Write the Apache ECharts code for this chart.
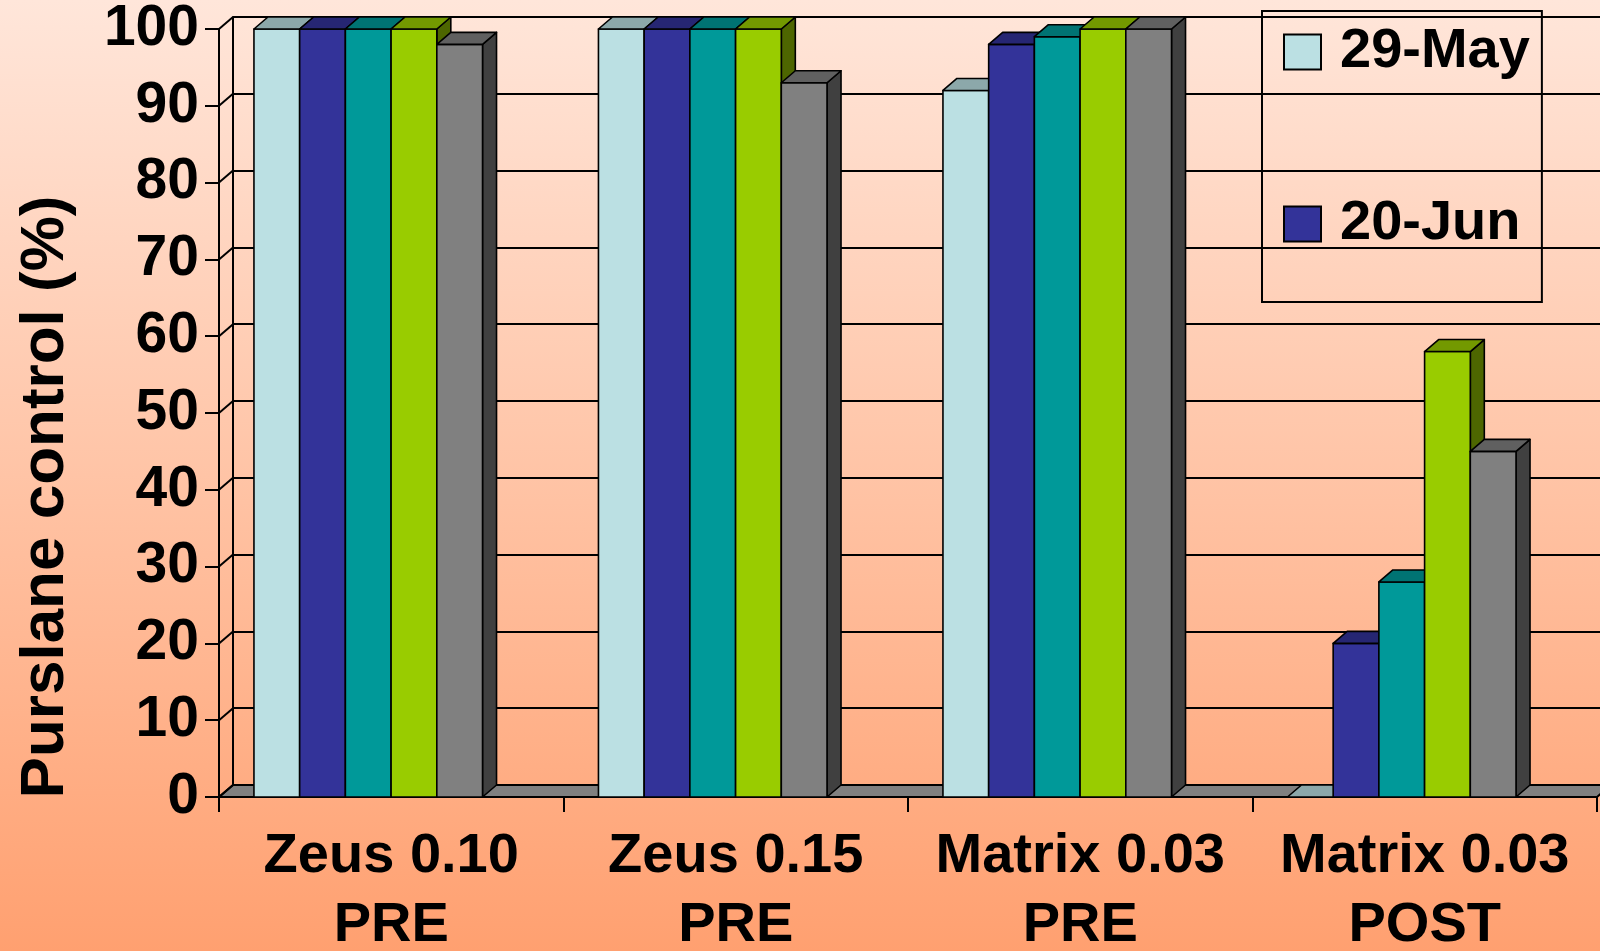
<!DOCTYPE html>
<html>
<head>
<meta charset="utf-8">
<script src="https://cdn.jsdelivr.net/npm/echarts@6/dist/echarts.min.js"></script>
<style>
html,body{margin:0;padding:0;}
#chart{width:1600px;height:951px;}
</style>
</head>
<body>
<div id="chart"></div>
<script>
const categories = ['Zeus 0.10\nPRE', 'Zeus 0.15\nPRE', 'Matrix 0.03\nPRE', 'Matrix 0.03\nPOST'];
const seriesNames = ['29-May', '20-Jun', 'Series 3', 'Series 4', 'Series 5'];
const may29 = [100, 100, 92, 0];
const jun20 = [100, 100, 98, 20];
const series3 = [100, 100, 99, 28];
const series4 = [100, 100, 100, 58];
const series5 = [98, 93, 100, 45];
const yTicks = [0, 10, 20, 30, 40, 50, 60, 70, 80, 90, 100];

const allValues = [may29, jun20, series3, series4, series5];
const frontColors = ['#BBE0E3', '#333399', '#009999', '#99CC00', '#808080'];
const topColors = ['#8CA8AA', '#262673', '#007373', '#739900', '#606060'];
const sideColors = ['#5E7072', '#1A1A4D', '#004D4D', '#4D6600', '#404040'];

const DX = 14, DY = -12;
const FONT = '"Liberation Sans", Arial, sans-serif';

function barRenderer(s) {
  return function (params, api) {
    const ci = api.value(0);
    const v = api.value(1);
    const base = api.coord([ci, 0]);
    const top = api.coord([ci, v]);
    const bw = api.size([1, 0])[0];
    const barW = bw * 0.1327;
    const left = base[0] - bw * 0.0668 + (s - 2.5) * barW;
    const right = left + barW;
    const yT = top[1], yB = base[1];
    const stroke = {stroke: '#000', lineWidth: 1.6, lineJoin: 'round'};
    return {
      type: 'group',
      children: [
        {type: 'polygon', shape: {points: [[right, yT], [right + DX, yT + DY], [right + DX, yB + DY], [right, yB]]},
         style: Object.assign({fill: sideColors[s]}, stroke)},
        {type: 'rect', shape: {x: left, y: yT, width: barW, height: yB - yT},
         style: Object.assign({fill: frontColors[s]}, stroke)},
        {type: 'polygon', shape: {points: [[left, yT], [right, yT], [right + DX, yT + DY], [left + DX, yT + DY]]},
         style: Object.assign({fill: topColors[s]}, stroke)}
      ]
    };
  };
}

const chart = echarts.init(document.getElementById('chart'));

const barSeries = allValues.map(function (vals, s) {
  return {
    name: seriesNames[s],
    type: 'custom',
    xAxisIndex: 0,
    yAxisIndex: 0,
    clip: false,
    z: 3,
    itemStyle: {color: frontColors[s], borderColor: '#000', borderWidth: 2},
    renderItem: barRenderer(s),
    encode: {x: 0, y: 1},
    data: vals.map(function (v, i) { return [i, v]; })
  };
});

const option = {
  animation: false,
  backgroundColor: {
    type: 'linear', x: 0, y: 0, x2: 0, y2: 1,
    colorStops: [
      {offset: 0, color: '#FFE6DA'},
      {offset: 0.5, color: '#FFC4A6'},
      {offset: 1, color: '#FFA070'}
    ]
  },
  textStyle: {fontFamily: FONT},
  legend: {
    data: ['29-May', '20-Jun'],
    orient: 'vertical',
    left: 1262,
    top: 11,
    padding: [13, 12, 50, 21],
    itemWidth: 37,
    itemHeight: 35,
    itemGap: 116,
    icon: 'rect',
    selectedMode: false,
    borderColor: '#000',
    borderWidth: 2,
    itemStyle: {borderColor: '#000', borderWidth: 2},
    textStyle: {fontSize: 56, fontWeight: 'bold', fontFamily: FONT, color: '#000', lineHeight: 54, padding: [0, 0, 0, 14]}
  },
  grid: [
    {left: 219, right: 3, top: 29, bottom: 154, containLabel: false, outerBoundsMode: 'none'},
    {left: 219 + DX, right: 3 - DX, top: 29 + DY, bottom: 154 - DY, containLabel: false, outerBoundsMode: 'none'}
  ],
  xAxis: [
    {
      type: 'category', gridIndex: 0, data: categories,
      axisLine: {show: true, lineStyle: {color: '#000', width: 2}},
      axisTick: {show: true, length: 15, lineStyle: {color: '#000', width: 2}},
      axisLabel: {margin: 25, fontSize: 56, fontWeight: 'bold', color: '#000', fontFamily: FONT, lineHeight: 69, interval: 0}
    },
    {
      type: 'category', gridIndex: 1, data: categories, show: false
    }
  ],
  yAxis: [
    {
      type: 'value', gridIndex: 0, min: 0, max: 100, interval: 10,
      axisLine: {show: true, lineStyle: {color: '#000', width: 2}},
      axisTick: {show: true, length: 14, lineStyle: {color: '#000', width: 2}},
      axisLabel: {margin: 20, fontSize: 57, fontWeight: 'bold', color: '#000', fontFamily: FONT},
      splitLine: {show: false}
    },
    {
      type: 'value', gridIndex: 1, min: 0, max: 100, interval: 10,
      axisLine: {show: true, lineStyle: {color: '#000', width: 2}},
      axisTick: {show: false},
      axisLabel: {show: false},
      splitLine: {show: true, lineStyle: {color: '#000', width: 2}}
    }
  ],
  graphic: [
    {
      type: 'text', x: 46, y: 497, rotation: Math.PI / 2,
      style: {text: 'Purslane control (%)', fontSize: 62, fontWeight: 'bold', fontFamily: FONT, fill: '#000', align: 'center', verticalAlign: 'middle'}
    }
  ],
  series: [
    {
      name: 'floor',
      type: 'custom', xAxisIndex: 0, yAxisIndex: 0, clip: false, z: 1,
      silent: true,
      data: [[0, 0]],
      renderItem: function (params, api) {
        const bw = api.size([1, 0])[0];
        const p0 = api.coord([0, 0]);
        const p1 = api.coord([categories.length - 1, 0]);
        const x0 = p0[0] - bw / 2, x1 = p1[0] + bw / 2, y0 = p0[1];
        return {
          type: 'polygon',
          shape: {points: [[x0, y0], [x1, y0], [x1 + DX, y0 + DY], [x0 + DX, y0 + DY]]},
          style: {fill: '#808080', stroke: '#000', lineWidth: 2}
        };
      }
    },
    {
      name: 'sidewall',
      type: 'custom', xAxisIndex: 0, yAxisIndex: 0, clip: false, z: 1,
      silent: true,
      data: yTicks.map(function (t) { return [0, t]; }),
      renderItem: function (params, api) {
        const bw = api.size([1, 0])[0];
        const p = api.coord([0, api.value(1)]);
        const x0 = p[0] - bw / 2;
        return {
          type: 'line',
          shape: {x1: x0, y1: p[1], x2: x0 + DX, y2: p[1] + DY},
          style: {stroke: '#000', lineWidth: 2}
        };
      }
    }
  ].concat(barSeries)
};

chart.setOption(option);
</script>
</body>
</html>
